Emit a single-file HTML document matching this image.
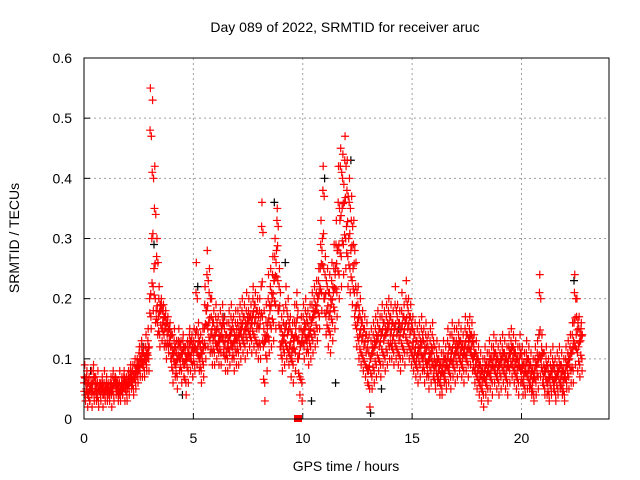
<!DOCTYPE html>
<html><head><meta charset="utf-8"><style>
body{margin:0;background:#fff}
svg{display:block;font-family:"Liberation Sans",sans-serif}
</style></head><body>
<svg id="chart" width="640" height="480">
<text x="345" y="32" font-size="14" text-anchor="middle">Day 089 of 2022, SRMTID for receiver aruc</text>
<text x="346" y="471" font-size="14" text-anchor="middle">GPS time / hours</text>
<text transform="translate(19,238) rotate(-90)" font-size="14" text-anchor="middle">SRMTID / TECUs</text>
<g id="grid"></g>
<g id="ticks"></g>
<g id="marks"></g>
<rect x="84" y="58" width="525" height="361" fill="none" stroke="#000" stroke-width="1"/>
</svg>
<script>
const xTicks=[0,5,10,15,20];
const yTicks=[0,0.1,0.2,0.3,0.4,0.5,0.6];
const yTickLabels=["0","0.1","0.2","0.3","0.4","0.5","0.6"];
// red series: values in hundredths of TECU at t = i*0.1 h
const redMid=[6,5,4,5,6,5,4,5,5,4, 5,4,5,5,6,5,4,5,6,5, 6,7,6,7,8,9,10,9,10,11, 20,30,25,18,17,18,16,15,14,13, 10,11,9,12,10,11,9,10,12,11, 11,14,12,10,11,15,18,16,14,13, 14,12,13,15,12,11,13,14,12,13, 13,14,15,14,15,16,15,17,16,15, 15,22,12,13,16,18,20,23,28,18, 12,13,15,14,12,11,13,16,10,12, 14,15,13,14,16,17,18,20,25,30, 20,18,17,19,21,25,28,33,35,36, 32,30,28,25,18,16,14,13,12,11, 8,10,11,12,13,12,14,13,14,15, 14,13,15,14,13,15,14,16,15,14, 12,11,10,11,12,10,11,9,10,11, 8,9,8,7,9,8,10,9,11,10, 11,12,11,10,12,11,13,12,10,9, 8,7,6,8,7,9,8,10,9,8, 9,10,9,8,10,11,10,9,8,10, 8,7,9,8,7,6,8,9,14,10, 7,8,6,7,8,6,7,8,7,6, 8,9,10,11,16,14,12,13];
const redHigh=[9,8,7,8,9,7,8,6,7,8, 7,6,7,8,7,6,8,7,8,7, 8,9,9,10,10,12,13,12,14,15, 55,53,42,30,22,20,19,18,17,16, 14,15,13,15,13,14,12,13,15,14, 15,26,16,14,15,22,28,25,20,18, 19,17,18,19,17,16,18,19,17,18, 18,19,20,19,21,20,19,22,21,20, 20,36,18,19,24,25,27,30,35,25, 17,18,22,20,17,16,19,21,15,17, 19,20,18,19,21,22,23,25,33,42, 27,25,24,26,29,33,42,45,44,47, 43,40,37,33,26,22,20,18,17,16, 14,15,16,17,18,17,19,18,19,20, 19,18,22,19,18,21,19,23,20,19, 17,16,15,16,17,15,16,14,15,16, 12,13,12,11,13,12,15,14,16,15, 15,16,15,14,17,16,17,16,14,13, 12,11,10,12,11,13,12,14,13,12, 13,14,13,12,14,15,14,13,12,14, 12,11,13,12,11,10,12,13,24,14, 11,12,10,11,12,10,11,12,11,10, 12,13,14,16,24,20,17,16];
const redUpper=[7,7,6,6,8,6,6,6,6,6, 6,5,6,7,7,6,6,6,7,6, 7,8,8,9,9,11,12,11,12,13, 48,41,35,27,20,19,18,17,16,15, 12,13,11,13,12,13,11,12,14,13, 13,21,14,12,13,19,24,21,17,16, 17,15,16,17,15,14,16,17,15,16, 16,17,18,17,18,18,17,20,19,18, 18,32,15,16,20,22,24,27,33,22, 15,16,19,17,15,14,16,19,13,15, 17,18,16,17,19,20,21,23,29,38, 24,22,21,23,25,29,36,42,40,43, 38,36,33,29,22,19,17,16,15,14, 11,13,14,15,16,15,17,16,17,18, 17,16,19,17,16,18,17,20,18,17, 15,14,13,14,15,13,14,12,13,14, 10,11,10,9,11,10,13,12,14,13, 13,14,13,12,15,14,15,14,12,11, 10,9,8,10,9,11,10,12,11,10, 11,12,11,10,12,13,12,11,10,12, 10,9,11,10,9,8,10,11,21,12, 9,10,8,9,10,8,9,10,9,8, 10,11,12,14,21,17,15,15];
const redLower=[4,4,3,4,4,4,3,4,4,4, 4,4,4,4,5,4,4,4,5,4, 5,6,5,6,7,8,9,8,9,10, 17,22,20,16,14,15,14,12,12,12, 8,9,7,10,8,9,6,8,10,9, 9,11,10,8,9,12,15,13,11,11, 12,11,11,13,10,10,11,12,10,11, 11,12,13,12,13,14,13,14,13,12, 12,17,6,10,13,15,16,19,23,15, 10,11,12,11,10,9,11,13,7,6, 12,13,11,12,13,14,15,17,21,25, 17,15,14,16,18,21,24,27,29,30, 27,25,23,21,15,13,11,10,9,8, 5,7,8,9,10,9,11,10,11,12, 12,11,12,11,10,12,11,13,12,11, 10,9,8,9,10,8,9,7,8,9, 6,7,6,5,7,6,8,7,9,8, 9,10,9,8,10,9,11,10,8,7, 6,5,4,6,5,7,6,8,7,6, 7,8,7,6,8,9,8,7,6,8, 6,5,7,6,5,4,6,7,10,8, 5,6,4,5,6,4,5,6,5,4, 6,7,8,8,12,11,9,10];
const redLow=[3,2,3,2,3,3,2,3,2,3, 3,3,2,3,4,3,3,4,3,3, 4,5,4,5,6,7,7,7,8,8, 15,18,16,14,12,13,12,10,11,10, 6,7,5,8,6,7,4,6,8,7, 8,9,8,6,7,10,12,11,9,9, 10,9,9,11,8,8,9,10,8,9, 9,10,11,10,11,12,11,12,11,10, 10,13,3,8,11,12,13,15,18,12, 8,9,10,9,7,6,8,10,4,3, 10,11,9,10,11,12,13,15,18,20, 14,12,11,13,15,17,20,22,24,25, 22,21,19,17,12,10,9,8,7,6, 2,5,6,7,8,7,9,8,9,10, 10,9,10,9,8,10,9,11,10,9, 8,7,6,7,8,6,7,5,6,7, 5,6,4,4,6,5,6,5,7,6, 7,8,7,6,8,7,9,8,6,5, 4,3,2,4,3,5,4,6,5,4, 5,6,5,4,6,7,6,5,4,6, 4,4,5,5,4,3,4,5,7,6, 4,4,3,4,5,3,4,5,4,3, 5,5,6,6,9,8,7,8];
const blackT=[0.3,2.7,3.2,4.5,5.2,6.4,8.7,9.2,10.4,11.0,11.5,12.2,13.1,13.6,14.4,18.3,20.8,22.4];
const blackV=[0.08,0.12,0.29,0.04,0.22,0.17,0.36,0.26,0.03,0.40,0.06,0.43,0.01,0.05,0.15,0.07,0.14,0.23];
const X=t=>84+t*525/24, Y=v=>419-v*361/0.6;
const NS='http://www.w3.org/2000/svg';
function mk(tag,attrs,parent){const e=document.createElementNS(NS,tag);for(const k in attrs)e.setAttribute(k,attrs[k]);parent.appendChild(e);return e;}
const grid=document.getElementById('grid'),ticks=document.getElementById('ticks'),marks=document.getElementById('marks');
xTicks.forEach(t=>{
 const g=mk('line',{x1:X(t),x2:X(t),y1:58,y2:419,stroke:'#a0a0a0','stroke-dasharray':'2,3'},grid);
 
 
 const tk=mk('line',{x1:X(t),x2:X(t),y1:419,y2:413,stroke:'#000'},ticks);
 
 
 const lb=mk('text',{x:X(t),y:443,'font-size':14,'text-anchor':'middle'},ticks);lb.textContent=t;
 
 
});
yTicks.forEach((v,i)=>{
 const g=mk('line',{x1:84,x2:609,y1:Y(v),y2:Y(v),stroke:'#a0a0a0','stroke-dasharray':'2,3'},grid);
 
 
 const tk=mk('line',{x1:84,x2:90,y1:Y(v),y2:Y(v),stroke:'#000'},ticks);
 
 
 const lb=mk('text',{x:72,y:Y(v)+5,'font-size':14,'text-anchor':'end'},ticks);lb.textContent=yTickLabels[i];
 
 
});
function plus(t,v,col){
 const x=X(t),y=Y(v);
 const p=mk('path',{d:`M${x-4},${y}h8M${x},${y-4}v8`,stroke:col,'stroke-width':1.2,fill:'none'},marks);
 
 
}
blackT.forEach((t,i)=>plus(t,blackV[i],'#000'));
redMid.forEach((v,i)=>{plus(i*0.1,v/100,'#f00');plus(i*0.1+0.05,v/100+0.008,'#f00');});
redHigh.forEach((v,i)=>plus(i*0.1+0.035,v/100,'#f00'));
redUpper.forEach((v,i)=>{plus(i*0.1+0.02,v/100,'#f00');plus(i*0.1+0.08,v/100-0.01,'#f00');});
redLower.forEach((v,i)=>{plus(i*0.1+0.06,v/100,'#f00');plus(i*0.1+0.01,v/100+0.006,'#f00');});
redLow.forEach((v,i)=>plus(i*0.1+0.07,v/100,'#f00'));
const sq=mk('rect',{x:X(9.6),y:415,width:8,height:7,fill:'#f00'},marks);


</script>
</body></html>
